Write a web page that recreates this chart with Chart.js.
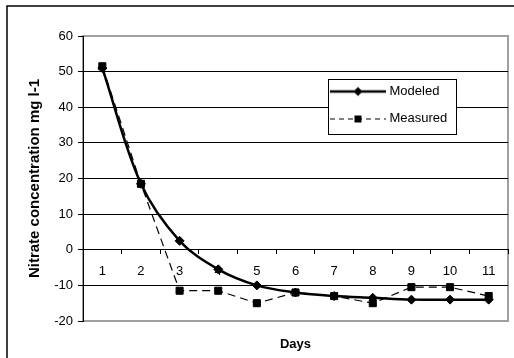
<!DOCTYPE html>
<html>
<head>
<meta charset="utf-8">
<script src="https://cdn.jsdelivr.net/npm/chart.js@4.4.0/dist/chart.umd.min.js"></script>
<style>
  html, body { margin: 0; padding: 0; background: #fff; }
</style>
</head>
<body>
<canvas id="chart" width="514" height="358"></canvas>
<script>
// values
const days = ['1', '2', '3', '4', '5', '6', '7', '8', '9', '10', '11'];
const modeled = [51, 18.5, 2.5, -5.5, -10, -12, -13, -13.5, -14, -14, -14];
const measured = [51.5, 18.5, -11.5, -11.5, -15, -12, -13, -15, -10.5, -10.5, -13];
const yMin = -20, yMax = 60, yStep = 10;

Chart.defaults.font.family = "'Liberation Sans', Arial, sans-serif";
Chart.defaults.font.size = 13;
Chart.defaults.color = '#000';

// little pictures for the legend: line with the marker in the middle
function legendSample(dashed) {
    const c = document.createElement('canvas');
    c.width = 56;
    c.height = 12;
    const g = c.getContext('2d');
    g.strokeStyle = '#000';
    g.fillStyle = '#000';
    g.lineWidth = dashed ? 1 : 2.5;
    if (dashed) g.setLineDash([5, 4]);
    g.beginPath();
    g.moveTo(0, dashed ? 6.5 : 6);
    g.lineTo(56, dashed ? 6.5 : 6);
    g.stroke();
    g.setLineDash([]);
    if (dashed) {
        g.fillRect(24.5, 3, 7, 7);
    } else {
        g.beginPath();
        g.moveTo(28, 1.5);
        g.lineTo(32.5, 6);
        g.lineTo(28, 10.5);
        g.lineTo(23.5, 6);
        g.closePath();
        g.fill();
    }
    return c;
}
const samples = [legendSample(false), legendSample(true)];

const frame = {
    id: 'frame',
    afterLayout(chart) {
        const lg = chart.legend;
        lg.left = 319;
        lg.top = 71;
        lg.right = 470;
        lg.bottom = 200;
        if (!lg._boxed) {
            const orig = lg.draw.bind(lg);
            lg.draw = function () {
                const ctx = chart.ctx;
                ctx.save();
                ctx.fillStyle = '#fff';
                ctx.strokeStyle = '#000';
                ctx.lineWidth = 1;
                ctx.fillRect(328.5, 79.5, 128, 55);
                ctx.strokeRect(328.5, 79.5, 128, 55);
                ctx.restore();
                orig();
            };
            lg._boxed = true;
        }
    },
    beforeDraw(chart) {
        const { ctx, chartArea: a } = chart;
        ctx.save();
        ctx.strokeStyle = '#000';
        ctx.lineWidth = 1.5;
        ctx.beginPath();
        ctx.moveTo(7, 358);
        ctx.lineTo(7, 6);
        ctx.lineTo(514, 6);
        ctx.stroke();
        ctx.strokeStyle = '#a0a0a0';
        ctx.lineWidth = 2;
        ctx.strokeRect(a.left, a.top, a.right - a.left, a.bottom - a.top);
        ctx.restore();
    }
};

const ctx = document.getElementById('chart');

var chart = new Chart(ctx, {
    type: 'line',
    data: {
        labels: days,
        datasets: [{
            label: 'Modeled',
            data: modeled,
            order: 1,
            borderColor: '#000',
            backgroundColor: '#000',
            borderWidth: 2.5,
            tension: 0.35,
            pointStyle: 'rectRot',
            pointRadius: 4.5,
            pointBorderWidth: 1,
            pointBackgroundColor: '#000',
            pointBorderColor: '#000',
            xAxisID: 'x',
            yAxisID: 'y'
        }, {
            label: 'Measured',
            data: measured,
            order: 0,
            borderColor: '#000',
            backgroundColor: '#000',
            borderWidth: 1.2,
            borderDash: [8, 5],
            tension: 0,
            pointStyle: 'rect',
            pointRadius: 5,
            pointBorderWidth: 1,
            pointBackgroundColor: '#000',
            pointBorderColor: '#000',
            xAxisID: 'x',
            yAxisID: 'y'
        }]
    },
    options: {
        responsive: false,
        animation: false,
        layout: {
            padding: { top: 36, right: 5, left: 0, bottom: 0 }
        },
        plugins: {
            tooltip: { enabled: false },
            legend: {
                display: true,
                position: 'chartArea',
                align: 'start',
                labels: {
                    usePointStyle: true,
                    pointStyleWidth: 50,
                    boxWidth: 50,
                    padding: 14,
                    textAlign: 'left',
                    font: { size: 13 },
                    color: '#000',
                    generateLabels(chart) {
                        return chart.data.datasets.map((ds, i) => ({
                            text: ds.label,
                            datasetIndex: i,
                            pointStyle: samples[i],
                            textAlign: 'left',
                            fontColor: '#000',
                            lineWidth: 0,
                            strokeStyle: 'transparent',
                            fillStyle: 'transparent',
                            hidden: false
                        }));
                    }
                }
            }
        },
        scales: {
            x: {
                axis: 'x',
                type: 'category',
                position: { y: 0 },
                offset: true,
                grid: {
                    offset: true,
                    drawOnChartArea: false,
                    drawTicks: true,
                    tickLength: 4,
                    color: '#000'
                },
                border: { display: true, color: '#000', width: 1 },
                ticks: { padding: 10, maxRotation: 0, autoSkip: false }
            },
            x2: {
                axis: 'x',
                type: 'category',
                position: 'bottom',
                offset: true,
                grid: { display: false },
                border: { display: false },
                ticks: { display: false },
                title: {
                    display: true,
                    text: 'Days',
                    font: { size: 13, weight: 'bold' },
                    padding: { top: 0, bottom: 6 }
                },
                afterFit(s) { s.height = 37; }
            },
            y: {
                min: yMin,
                max: yMax,
                ticks: { stepSize: yStep, padding: 5 },
                grid: {
                    color: c => (c.tick && (c.tick.value === yMax || c.tick.value === yMin)) ? '#a0a0a0' : '#000',
                    tickColor: '#000',
                    tickLength: 5
                },
                border: { color: '#000', width: 1 },
                title: {
                    display: true,
                    text: 'Nitrate concentration mg l-1',
                    font: { size: 15, weight: 'bold' },
                    padding: { top: 26, bottom: 0 }
                },
                afterFit(s) { s.width = 83; }
            }
        }
    },
    plugins: [frame]
});
</script>
</body>
</html>
